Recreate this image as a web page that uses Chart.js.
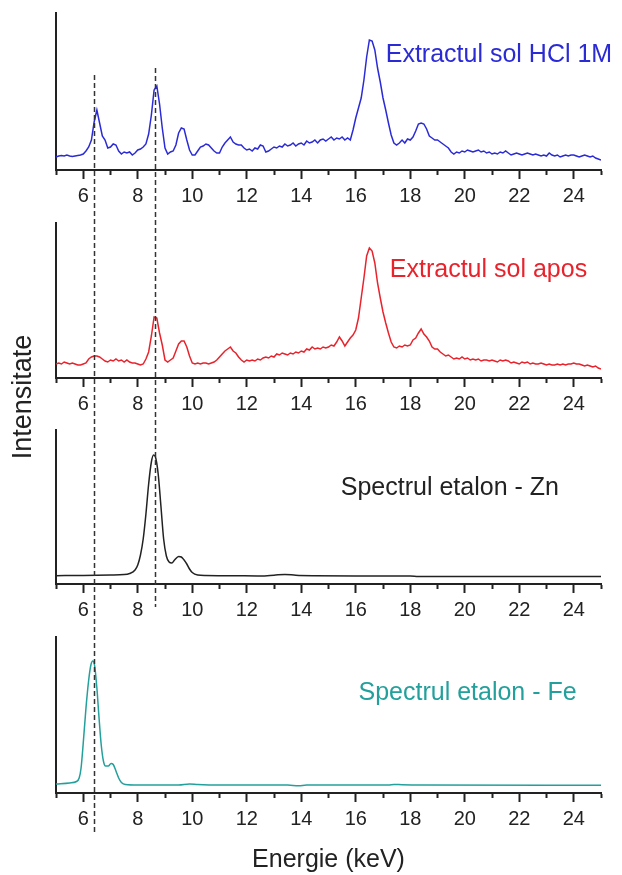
<!DOCTYPE html>
<html lang="ro">
<head>
<meta charset="UTF-8">
<title>Spectre XRF - extracte de sol si etaloane</title>
<script src="https://cdn.jsdelivr.net/npm/chart.js"></script>
<style>
  body { margin: 0; background: #fff; }
  #fig { position: relative; width: 622px; height: 875px; overflow: hidden; }
  #fig canvas { position: absolute; left: 0; }
  #yTitle {
    position: absolute; left: -78px; top: 382px; width: 200px; height: 30px;
    line-height: 30px; text-align: center; transform: rotate(-90deg);
    font: 27px Arial, "Liberation Sans", sans-serif; color: #222;
  }
</style>
</head>
<body>
<div id="fig">
  <canvas id="p1" width="622" height="212" style="top:0px"></canvas>
  <canvas id="p2" width="622" height="208" style="top:212px"></canvas>
  <canvas id="p3" width="622" height="206" style="top:420px"></canvas>
  <canvas id="p4" width="622" height="249" style="top:626px"></canvas>
  <canvas id="refLines" width="622" height="875" style="top:0px"></canvas>
  <div id="yTitle">Intensitate</div>
</div>
<script>
// energy axis (keV)
const keVMin = 5;
const keVMax = 25;
const keVTickLabels = [6, 8, 10, 12, 14, 16, 18, 20, 22, 24];

// soil extracts: counts sampled every 0.1 keV from 5.0 to 25.0 keV
const gridStart = 5.0;
const gridStep = 0.1;
const hclCounts = [
  13, 14, 14.5, 14, 15, 14, 13.5, 14, 14.5, 15,        // 5.0
  16, 19, 23, 30, 48, 60, 47, 34, 30, 22,              // 6.0
  23, 26, 25, 19, 16, 18, 17, 18, 15, 17,              // 7.0
  20, 21, 23, 26, 36, 55, 80, 84, 66, 42,              // 8.0
  22, 16, 18, 19, 25, 37, 42, 41, 30, 20,              // 9.0
  15, 15, 19, 23, 24, 26, 25, 22, 19, 17,              // 10.0
  17, 23, 27, 30, 33, 28, 26, 25, 25, 22,              // 11.0
  20, 21, 19, 22, 21, 25, 24, 18, 19, 21,              // 12.0
  23, 22, 24, 23, 26, 24, 25, 27, 24, 26,              // 13.0
  27, 25, 29, 27, 28, 30, 27, 30, 31, 29,              // 14.0
  31, 33, 30, 32, 31, 33, 30, 32, 30, 40,              // 15.0
  52, 62, 72, 90, 113, 130, 129, 120, 102, 88,         // 16.0
  72, 60, 47, 35, 27, 25, 27, 30, 27, 31,              // 17.0
  30, 33, 39, 46, 47, 46, 41, 34, 32, 30,              // 18.0
  30, 28, 26, 24, 22, 18, 16, 18, 17, 19,              // 19.0
  18, 20, 19, 18, 19, 20, 18, 19, 17, 18,              // 20.0
  16, 17, 16, 18, 17, 19, 17, 15, 16, 17,              // 21.0
  16, 15, 16, 17, 16, 15, 16, 15, 14, 15,              // 22.0
  14, 17, 15, 14, 15, 13, 14, 15, 14, 15,              // 23.0
  15, 14, 13, 14, 15, 14, 13, 14, 12, 11,              // 24.0
  10                                                   // 25.0
];
const aposCounts = [
  14, 15, 14, 16, 15, 14, 15, 14, 13, 13,              // 5.0
  14, 15, 19, 21, 22, 22, 21, 19, 17, 16,              // 6.0
  18, 17, 19, 17, 18, 16, 18, 16, 15, 15,              // 7.0
  14, 13, 14, 19, 26, 42, 61, 60, 45, 33,              // 8.0
  18, 16, 18, 20, 27, 34, 37, 37, 31, 22,              // 9.0
  15, 14, 15, 14, 15, 15, 14, 15, 16, 18,              // 10.0
  21, 24, 27, 29, 31, 27, 25, 21, 18, 16,              // 11.0
  18, 17, 18, 17, 19, 18, 20, 21, 20, 22,              // 12.0
  21, 24, 23, 25, 24, 23, 25, 24, 26, 25,              // 13.0
  27, 26, 29, 28, 31, 29, 30, 29, 31, 30,              // 14.0
  31, 33, 32, 36, 41, 37, 32, 36, 40, 43,              // 15.0
  48, 60, 80, 100, 122, 130, 127, 115, 95, 80,         // 16.0
  66, 55, 45, 36, 31, 30, 32, 31, 33, 32,              // 17.0
  33, 38, 40, 45, 49, 44, 41, 37, 31, 29,              // 18.0
  29, 26, 24, 22, 23, 21, 19, 20, 19, 21,              // 19.0
  19, 20, 18, 19, 18, 19, 17, 18, 18, 17,              // 20.0
  18, 17, 16, 18, 17, 18, 17, 15, 16, 15,              // 21.0
  14, 16, 15, 16, 14, 15, 14, 14, 15, 14,              // 22.0
  13, 14, 13, 13, 14, 13, 14, 13, 14, 14,              // 23.0
  15, 14, 14, 13, 12, 13, 12, 11, 12, 10,              // 24.0
  9                                                    // 25.0
];

// reference standards (smooth spectra)
const znStdKeV = [5.0, 6.0, 7.0, 7.5, 7.7, 7.9, 8.0, 8.1, 8.2, 8.3, 8.4, 8.5, 8.58, 8.65, 8.75, 8.85, 8.95, 9.05, 9.15, 9.25, 9.35, 9.5, 9.6, 9.7, 9.8, 9.9, 10.0, 10.2, 10.5, 11.5, 12.5, 13.0, 13.4, 13.8, 14.5, 16.0, 18.0, 18.3, 20.0, 22.0, 25.0];
const znStdCounts = [8.3, 8.6, 9, 9.4, 10.5, 14, 19, 29, 45, 70, 100, 122, 129, 127, 110, 78, 45, 28, 22, 21, 24, 27.5, 27, 24, 20, 15, 11.5, 9, 8.5, 8.3, 8, 8.8, 9.6, 8.8, 8.3, 8, 8, 7.6, 7.6, 7.6, 7.6];
const feStdKeV = [5.0, 5.5, 5.75, 5.85, 5.92, 6.0, 6.1, 6.2, 6.28, 6.35, 6.42, 6.5, 6.58, 6.66, 6.74, 6.82, 6.92, 7.02, 7.1, 7.2, 7.3, 7.4, 7.55, 8.0, 9.5, 9.9, 10.2, 11.0, 13.5, 13.9, 14.2, 17.2, 17.4, 17.7, 18.4, 25.0];
const feStdCounts = [9, 10, 11.5, 15, 25, 50, 85, 113, 128, 132, 127, 105, 75, 48, 32, 27, 27, 29.5, 28.5, 22, 15, 10.5, 8.5, 8, 8, 9, 8.5, 8, 8, 7.2, 8, 8, 8.6, 8.3, 8, 7.8];

// Fe K-alpha and Zn K-alpha markers
const markerKeV = [6.4, 8.63];

const FONT = 'Arial, "Liberation Sans", sans-serif';
const INK = '#222';

const onGrid = counts => counts.map((c, i) => ({ x: +(gridStart + i * gridStep).toFixed(1), y: c }));
const pairs = (xs, ys) => xs.map((x, i) => ({ x, y: ys[i] }));

const panels = [
  { id: 'p1', top: 0,   padTop: 13, xHeight: 42, yMax: 157, color: '#2b2bd6', smooth: false,
    points: onGrid(hclCounts), label: 'Extractul sol HCl 1M', labelAt: [17.1, 115] },
  { id: 'p2', top: 212, padTop: 11, xHeight: 42, yMax: 155, color: '#e8232c', smooth: false,
    points: onGrid(aposCounts), label: 'Extractul sol apos', labelAt: [17.25, 108] },
  { id: 'p3', top: 420, padTop: 10, xHeight: 42, yMax: 154, color: '#222222', smooth: true,
    points: pairs(znStdKeV, znStdCounts), label: 'Spectrul etalon - Zn', labelAt: [15.45, 96] },
  { id: 'p4', top: 626, padTop: 11, xHeight: 82, yMax: 156, color: '#23a09c', smooth: true,
    points: pairs(feStdKeV, feStdCounts), label: 'Spectrul etalon - Fe', labelAt: [16.1, 100], xTitle: 'Energie (keV)' }
];

// text inside each panel, anchored in data coordinates
const panelLabel = {
  id: 'panelLabel',
  afterDatasetsDraw(chart, args, opts) {
    const { ctx, scales } = chart;
    ctx.save();
    ctx.font = '25px ' + FONT;
    ctx.fillStyle = opts.color;
    ctx.textAlign = 'left';
    ctx.textBaseline = 'middle';
    ctx.fillText(opts.text, scales.x.getPixelForValue(opts.x), scales.y.getPixelForValue(opts.y));
    ctx.restore();
  }
};

const charts = panels.map(p => new Chart(document.getElementById(p.id), {
  type: 'line',
  data: {
    datasets: [{
      data: p.points,
      borderColor: p.color,
      borderWidth: 1.5,
      pointRadius: 0,
      fill: false,
      tension: p.smooth ? 0.4 : 0,
      cubicInterpolationMode: p.smooth ? 'monotone' : 'default'
    }]
  },
  options: {
    responsive: false,
    animation: false,
    events: [],
    layout: { padding: { left: 56, right: 21, top: p.padTop, bottom: 0 } },
    plugins: {
      legend: { display: false },
      tooltip: { enabled: false },
      panelLabel: { text: p.label, color: p.color, x: p.labelAt[0], y: p.labelAt[1] }
    },
    scales: {
      x: {
        type: 'linear',
        min: keVMin,
        max: keVMax,
        afterFit: s => { s.height = p.xHeight; },
        border: { display: true, color: INK, width: 2 },
        grid: {
          display: true,
          drawOnChartArea: false,
          drawTicks: true,
          tickLength: 9,
          tickWidth: 2,
          tickColor: INK,
          // odd keV ticks are short
          tickBorderDash: c => (c.tick && keVTickLabels.includes(c.tick.value)) ? [] : [4, 20]
        },
        ticks: {
          stepSize: 1,
          autoSkip: false,
          maxRotation: 0,
          padding: 5,
          color: INK,
          font: { family: FONT, size: 20 },
          callback: v => keVTickLabels.includes(v) ? String(v) : ''
        },
        title: {
          display: !!p.xTitle,
          text: p.xTitle || '',
          color: INK,
          font: { family: FONT, size: 25 },
          padding: { top: 0, bottom: 0 }
        }
      },
      y: {
        min: 0,
        max: p.yMax,
        afterFit: s => { s.width = 0; },
        border: { display: true, color: INK, width: 2 },
        grid: { display: false, drawTicks: false },
        ticks: { display: false }
      }
    }
  },
  plugins: [panelLabel]
}));

// dashed marker lines running down through the stacked panels
const markerSpans = [
  { keV: markerKeV[0], fromPanel: 0, fromCounts: 95,  toPanel: 3, belowAxis: 40 },
  { keV: markerKeV[1], fromPanel: 0, fromCounts: 102, toPanel: 2, belowAxis: 23 }
];
const ov = document.getElementById('refLines').getContext('2d');
ov.strokeStyle = '#333';
ov.lineWidth = 1.5;
ov.setLineDash([5, 3]);
markerSpans.forEach(m => {
  const first = charts[m.fromPanel];
  const last = charts[m.toPanel];
  const x = Math.round(first.scales.x.getPixelForValue(m.keV)) + 0.5;
  const y0 = panels[m.fromPanel].top + first.scales.y.getPixelForValue(m.fromCounts);
  const y1 = panels[m.toPanel].top + last.scales.x.top + m.belowAxis;
  ov.beginPath();
  ov.moveTo(x, y0);
  ov.lineTo(x, y1);
  ov.stroke();
});
</script>
</body>
</html>
